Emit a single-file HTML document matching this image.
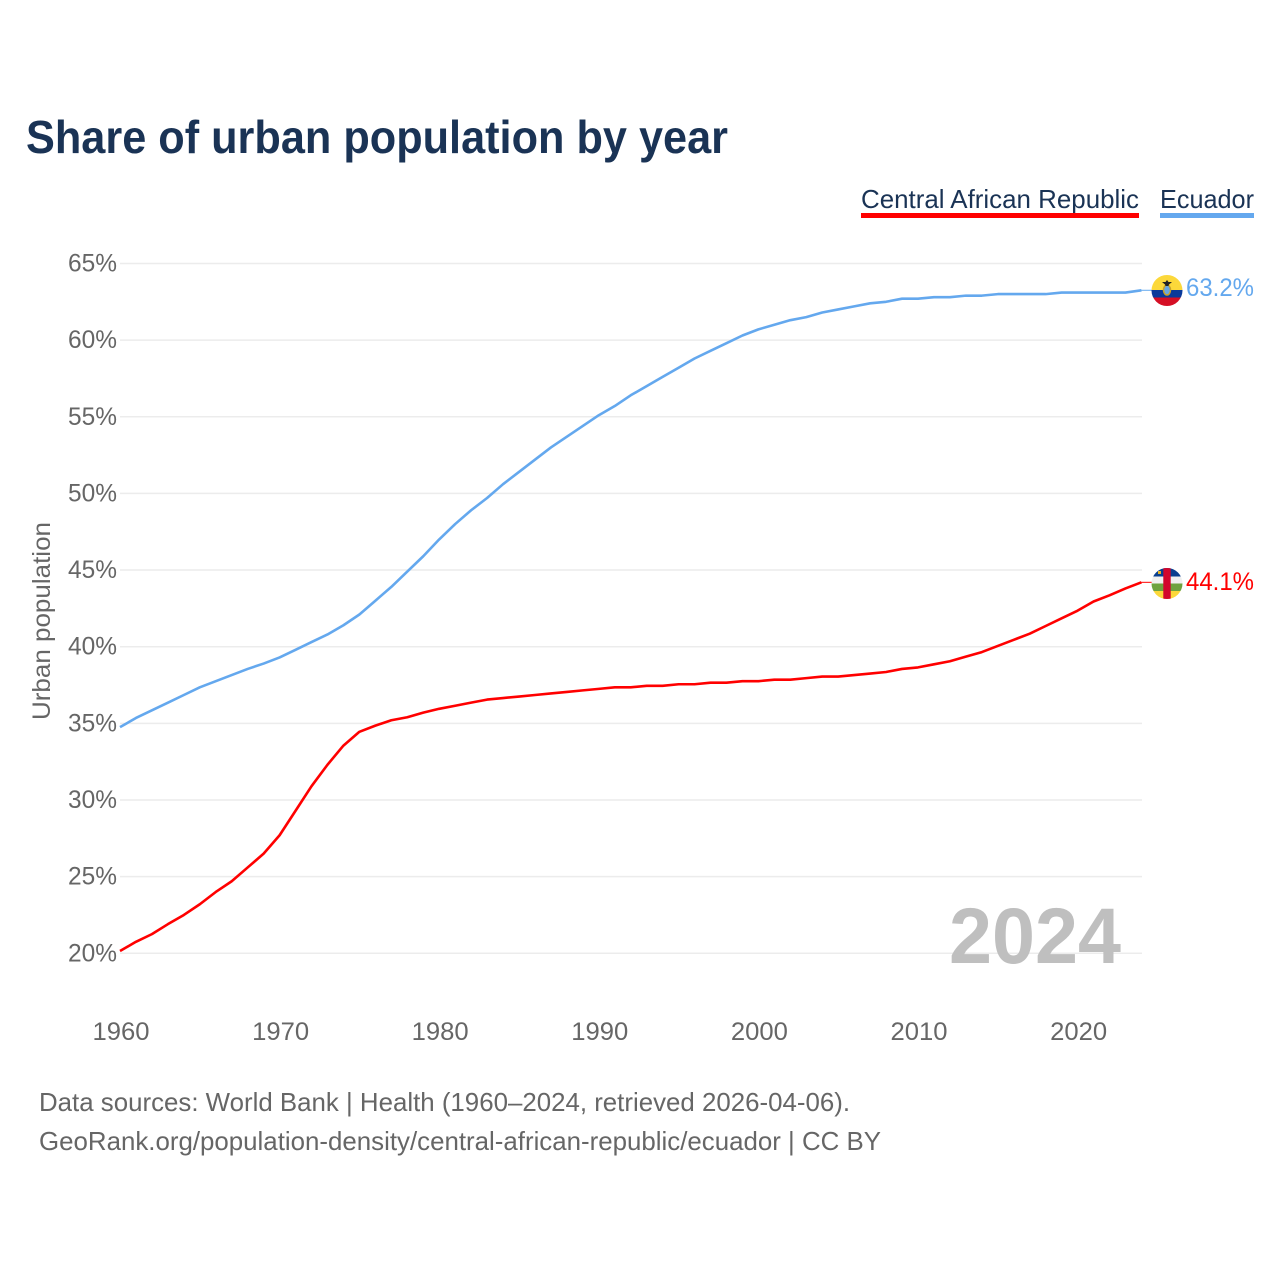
<!DOCTYPE html>
<html lang="en">
<head>
<meta charset="utf-8">
<title>Share of urban population by year</title>
<style>
html,body{margin:0;padding:0;background:#fff;}
svg{display:block;font-family:"Liberation Sans",Arial,sans-serif;}
</style>
</head>
<body>
<svg id="chart" xmlns="http://www.w3.org/2000/svg" width="1280" height="1280" viewBox="0 0 1280 1280">
  <defs>
    <clipPath id="flag-clip-ec"><circle cx="1167" cy="290.5" r="15.5"/></clipPath>
    <clipPath id="flag-clip-cf"><circle cx="1167" cy="583.5" r="15.5"/></clipPath>
  </defs>
  <rect width="1280" height="1280" fill="#fff"/>
  <text x="26" y="153" font-size="46" font-weight="700" fill="#1a3355" textLength="702" lengthAdjust="spacingAndGlyphs">Share of urban population by year</text>

  <g id="grid"></g>
  <g id="yticks"></g>
  <g id="xticks"></g>
  <text transform="translate(50,720) rotate(-90)" font-size="25" fill="#666" textLength="198" lengthAdjust="spacingAndGlyphs">Urban population</text>

  <text x="949" y="963" font-size="79" font-weight="700" fill="#bfbfbf" textLength="172" lengthAdjust="spacingAndGlyphs">2024</text>

  <g id="series"></g>

  <g>
    <g>
      <text x="861" y="208" font-size="26" fill="#1a3355" textLength="278" lengthAdjust="spacingAndGlyphs">Central African Republic</text>
      <rect x="861" y="213" width="278" height="5" fill="#ff0000"/>
    </g>
    <g>
      <text x="1160" y="208" font-size="26" fill="#1a3355" textLength="94" lengthAdjust="spacingAndGlyphs">Ecuador</text>
      <rect x="1160" y="213" width="94" height="5" fill="#64a8ee"/>
    </g>
  </g>

  <g clip-path="url(#flag-clip-ec)">
    <rect x="1151" y="275" width="32" height="15" fill="#fcd83a"/>
    <rect x="1151" y="290" width="32" height="7.5" fill="#0a3a9a"/>
    <rect x="1151" y="297.5" width="32" height="9" fill="#d50f25"/>
    <ellipse cx="1167" cy="290" rx="3.5" ry="5" fill="#6aa7e0" stroke="#c9a227" stroke-width="1.5"/>
    <path d="M1162 282 L1172 282 L1169 284.5 L1168.5 286 L1165.5 286 L1165 284.5 Z M1165.5 282 L1167 280 L1168.5 282 Z" fill="#222"/>
  </g>
  <g clip-path="url(#flag-clip-cf)">
    <rect x="1151" y="568" width="32" height="8.5" fill="#0a3f8f"/>
    <rect x="1151" y="576.5" width="32" height="7" fill="#f0f0f0"/>
    <rect x="1151" y="583.5" width="32" height="7.5" fill="#6ea33f"/>
    <rect x="1151" y="591" width="32" height="8" fill="#fcd83a"/>
    <rect x="1163.3" y="568" width="7.4" height="31" fill="#d2062c"/>
    <rect x="1158" y="571" width="3" height="3" fill="#e6b422"/>
  </g>

  <text x="1186" y="296" font-size="25" fill="#64a8ee" textLength="68" lengthAdjust="spacingAndGlyphs">63.2%</text>
  <text x="1186" y="590" font-size="25" fill="#ff0000" textLength="68" lengthAdjust="spacingAndGlyphs">44.1%</text>

  <text x="39" y="1111" font-size="26" fill="#666" textLength="811" lengthAdjust="spacingAndGlyphs">Data sources: World Bank | Health (1960–2024, retrieved 2026-04-06).</text>
  <text x="39" y="1150" font-size="26" fill="#666" textLength="842" lengthAdjust="spacingAndGlyphs">GeoRank.org/population-density/central-african-republic/ecuador | CC BY</text>
</svg>
<script>
const yTicks = [20, 25, 30, 35, 40, 45, 50, 55, 60, 65];
const xTicks = [1960, 1970, 1980, 1990, 2000, 2010, 2020];
const startYear = 1960;
const carValues = [20.15,20.75,21.25,21.9,22.5,23.2,24.0,24.7,25.6,26.5,27.7,29.3,30.9,32.3,33.55,34.45,34.85,35.2,35.4,35.7,35.95,36.15,36.35,36.55,36.65,36.75,36.85,36.95,37.05,37.15,37.25,37.35,37.35,37.45,37.45,37.55,37.55,37.65,37.65,37.75,37.75,37.85,37.85,37.95,38.05,38.05,38.15,38.25,38.35,38.55,38.65,38.85,39.05,39.35,39.65,40.05,40.45,40.85,41.35,41.85,42.35,42.95,43.35,43.8,44.2];
const ecuadorValues = [34.75,35.35,35.85,36.35,36.85,37.35,37.75,38.15,38.55,38.9,39.3,39.8,40.3,40.8,41.4,42.1,43.0,43.9,44.9,45.9,47.0,48.0,48.9,49.7,50.6,51.4,52.2,53.0,53.7,54.4,55.1,55.7,56.4,57.0,57.6,58.2,58.8,59.3,59.8,60.3,60.7,61.0,61.3,61.5,61.8,62.0,62.2,62.4,62.5,62.7,62.7,62.8,62.8,62.9,62.9,63.0,63.0,63.0,63.0,63.1,63.1,63.1,63.1,63.1,63.25];

const NS = 'http://www.w3.org/2000/svg';
const xScale = function (year) { return 120 + (year - 1960) * 15.96; };
const yScale = function (v) { return 953.3 - (v - 20) * 15.33; };

function make(tag, parent, props, content) {
  const el = document.createElementNS(NS, tag);
  Object.keys(props).forEach(function (k) { el.setAttribute(k, props[k]); });
  if (content !== undefined) el.textContent = content;
  parent.appendChild(el);
  return el;
}

const grid = document.getElementById('grid');
const yg = document.getElementById('yticks');
const xg = document.getElementById('xticks');
const sg = document.getElementById('series');

yTicks.forEach(function (t) {
  const line = make('line', grid, {x1: 120, x2: 1142, y1: yScale(t), y2: yScale(t), stroke: '#ececec', 'stroke-width': 1.5});
  
  
  const label = make('text', yg, {x: 117, y: yScale(t) + 8, 'text-anchor': 'end', 'font-size': 25, fill: '#666', textLength: 49, lengthAdjust: 'spacingAndGlyphs'}, t + '%');
  
  
});

xTicks.forEach(function (t) {
  const label = make('text', xg, {x: xScale(t) + 1, y: 1040, 'text-anchor': 'middle', 'font-size': 25, fill: '#666', textLength: 57, lengthAdjust: 'spacingAndGlyphs'}, String(t));
  
  
});

function pointsOf(values) {
  return values.map(function (v, i) { return xScale(startYear + i).toFixed(2) + ',' + yScale(v).toFixed(2); }).join(' ');
}

function leader(values, color) {
  const last = values[values.length - 1];
  const yEnd = yScale(last);
  const l = make('line', sg, {x1: xScale(startYear + values.length - 1), x2: 1152, y1: yEnd, y2: yEnd, stroke: color, 'stroke-width': 1});
  
  
}

leader(ecuadorValues, '#64a8ee');
leader(carValues, '#ff0000');

const ecLine = make('polyline', sg, {points: pointsOf(ecuadorValues), fill: 'none', stroke: '#64a8ee', 'stroke-width': 2.6, 'stroke-linejoin': 'round'});



const carLine = make('polyline', sg, {points: pointsOf(carValues), fill: 'none', stroke: '#ff0000', 'stroke-width': 2.6, 'stroke-linejoin': 'round'});


</script>
</body>
</html>
